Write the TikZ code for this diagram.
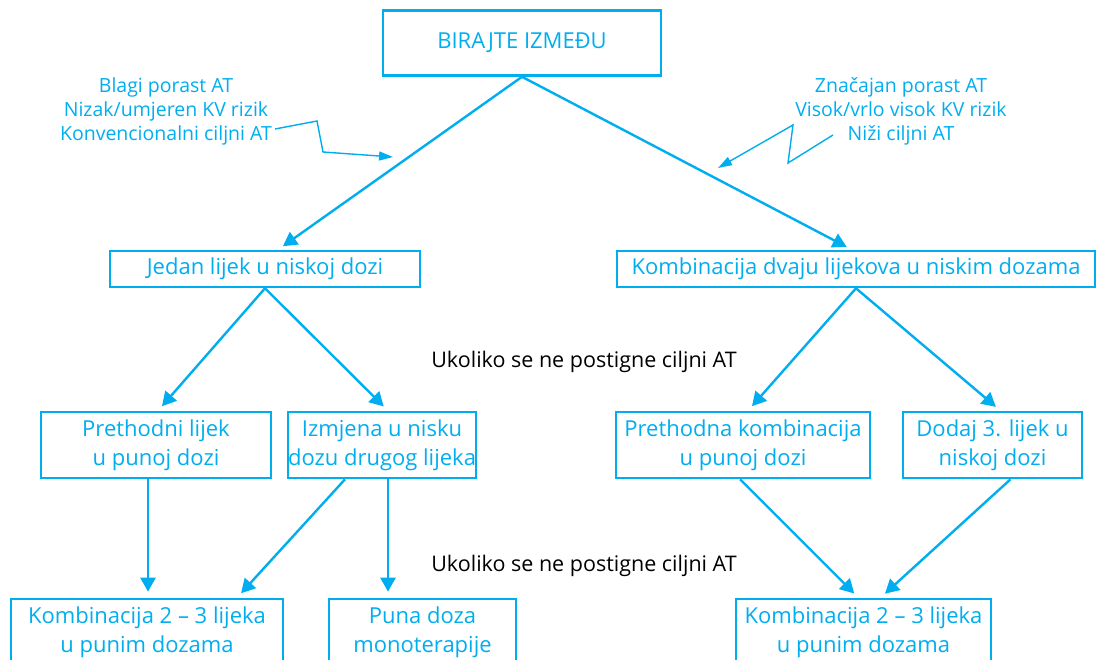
\documentclass[tikz,border=0pt]{standalone}
\usepackage{fontspec}
\setmainfont{Open Sans}
\usepackage{tikz}
\usetikzlibrary{arrows.meta}
\definecolor{plava}{RGB}{0,174,239}

\begin{document}
\begin{tikzpicture}[x=1pt, y=-1pt,
	korak/.style={rectangle, draw=plava, line width=2.6pt, text=plava, align=center, inner sep=0pt, font=\fontsize{22}{29}\selectfont},
	jedan/.style={korak, minimum height=36pt},
	dva/.style={korak, minimum height=66pt},
	napomena/.style={text=plava, align=center, font=\fontsize{19.5}{24}\selectfont},
	uvjet/.style={text=black, font=\fontsize{21.5}{24}\selectfont},
	strelica/.style={draw=plava, line width=2.4pt, -{Triangle[length=14pt, width=15pt]}, shorten >=6pt},
	cik/.style={draw=plava, line width=1.4pt, -{Triangle[length=14pt, width=9pt]}},
	]
	\clip (0,0) rectangle (1099,660);
	\useasboundingbox (0,0) rectangle (1099,660);
	
	\node[korak, minimum width=278pt, minimum height=65pt] at (522, 43) (birajte) {BIRAJTE IZMEĐU};
	
	\node[jedan, minimum width=310pt] at (265, 269) (niska) {Jedan lijek u niskoj dozi};
	\node[jedan, minimum width=478pt] at (856, 269) (kombnisko) {Kombinacija dvaju lijekova u niskim dozama};
	
	\node[dva, minimum width=230pt] at (156, 445) (prethodni) {Prethodni lijek\\u punoj dozi};
	\node[dva, minimum width=186pt] at (382, 445) (izmjena) {Izmjena u nisku\\dozu drugog lijeka};
	\node[dva, minimum width=254pt] at (743, 445) (prethkomb) {Prethodna kombinacija\\u punoj dozi};
	\node[dva, minimum width=179pt] at (992.5, 445) (dodaj) {Dodaj 3. lijek u\\niskoj dozi};
	
	\node[dva, minimum width=272pt] at (147, 632) (kombpune1) {Kombinacija 2 – 3 lijeka\\u punim dozama};
	\node[dva, minimum width=187pt] at (422.5, 632) (monoterapija) {Puna doza\\monoterapije};
	\node[dva, minimum width=255pt] at (863.5, 632) (kombpune2) {Kombinacija 2 – 3 lijeka\\u punim dozama};
	
	\node[napomena] at (166, 111) (blagi) {Blagi porast AT\\Nizak/umjeren KV rizik\\Konvencionalni ciljni AT};
	\node[napomena] at (901, 111) (znacajan) {Značajan porast AT\\Visok/vrlo visok KV rizik\\Niži ciljni AT};
	
	\node[uvjet] at (584, 362) (uvjet1) {Ukoliko se ne postigne ciljni AT};
	\node[uvjet] at (584, 566) (uvjet2) {Ukoliko se ne postigne ciljni AT};
	
	% grananje od vrha
	\draw[strelica] (birajte.south) -- ([xshift=13pt]niska.north);
	\draw[strelica] (birajte.south) -- ([xshift=-4pt]kombnisko.north);
	\draw[strelica] (niska.south) -- ([xshift=2pt]prethodni.north);
	\draw[strelica] (niska.south) -- ([xshift=6pt]izmjena.north);
	\draw[strelica] (kombnisko.south) -- ([xshift=5pt]prethkomb.north);
	\draw[strelica] (kombnisko.south) -- ([xshift=8pt]dodaj.north);
	
	% drugi korak
	\draw[strelica] ([xshift=-8pt]prethodni.south) -- ([xshift=1pt]kombpune1.north);
	\draw[strelica] ([xshift=-37pt]izmjena.south) -- ([xshift=90pt]kombpune1.north);
	\draw[strelica] ([xshift=6pt]izmjena.south) -- ([xshift=-34.5pt]monoterapija.north);
	\draw[strelica] ([xshift=-3pt]prethkomb.south) -- ([xshift=-5pt]kombpune2.north);
	\draw[strelica] ([xshift=18pt]dodaj.south) -- ([xshift=17pt]kombpune2.north);
	
	% cik-cak pokazivaci
	\coordinate (lijevipocetak) at (275, 129);
	\coordinate (lijevivrh) at (393, 157);
	\coordinate (desnipocetak) at (833, 135);
	\coordinate (desnivrh) at (718, 168);
	\draw[cik] (lijevipocetak) -- (317, 121) -- (323, 152) -- (lijevivrh);
	\draw[cik] (desnipocetak) -- (788, 163) -- (793, 125) -- (desnivrh);
\end{tikzpicture}
\end{document}
